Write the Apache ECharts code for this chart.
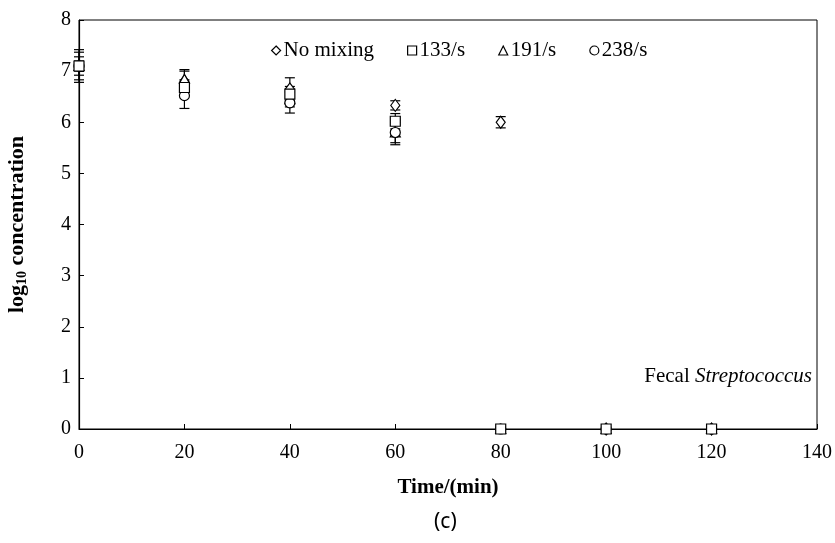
<!DOCTYPE html>
<html><head><meta charset="utf-8">
<script src="https://cdn.jsdelivr.net/npm/echarts@6/dist/echarts.min.js"></script>
<style>html,body{margin:0;padding:0;background:#fff}#c{width:835px;height:543px}</style>
</head><body><div id="c"></div>
<script>
const times = [0, 20, 40, 60, 80, 100, 120];
const seriesNames = ['No mixing', '133/s', '191/s', '238/s'];
const noMixing = [7.1, 6.8, 6.65, 6.33, 6.0, 0, 0];
const s133 = [7.1, 6.68, 6.55, 6.02, 0, 0, 0];
const s191 = [7.1, 6.85, 6.45, 5.8, 0, 0, 0];
const s238 = [7.1, 6.52, 6.38, 5.8, 0, 0, 0];
const noMixingErr = [0.1, 0.2, 0.22, 0.09, 0.11, 0, 0];
const s133Err = [0.32, 0.15, 0.15, 0.15, 0, 0, 0];
const s191Err = [0.18, 0.18, 0.15, 0.2, 0, 0, 0];
const s238Err = [0.27, 0.25, 0.2, 0.24, 0, 0, 0];
const xTicks = [0, 20, 40, 60, 80, 100, 120, 140];
const yTicks = [0, 1, 2, 3, 4, 5, 6, 7, 8];

const values = [noMixing, s133, s191, s238];
const errs = [noMixingErr, s133Err, s191Err, s238Err];
const symbols = ['diamond', 'rect', 'triangle', 'circle'];
const sizes = [[9, 12], [10, 10], [10, 9], [10, 10]];
const zs = [3, 6, 4, 5];
const FONT = '"Liberation Serif", "Times New Roman", serif';

const chart = echarts.init(document.getElementById('c'));
const series = [];
values.forEach((vals, i) => {
  series.push({
    type: 'custom',
    name: seriesNames[i] + ' err',
    silent: true,
    z: 2,
    data: times.map((t, k) => [t, vals[k] - errs[i][k], vals[k] + errs[i][k]]),
    renderItem: function (params, api) {
      const lo = api.coord([api.value(0), api.value(1)]);
      const hi = api.coord([api.value(0), api.value(2)]);
      if (api.value(2) - api.value(1) <= 0) return null;
      const w = 5;
      const st = { stroke: '#000', lineWidth: 1.2 };
      return {
        type: 'group',
        children: [
          { type: 'line', shape: { x1: lo[0], y1: lo[1], x2: hi[0], y2: hi[1] }, style: st },
          { type: 'line', shape: { x1: lo[0] - w, y1: lo[1], x2: lo[0] + w, y2: lo[1] }, style: st },
          { type: 'line', shape: { x1: hi[0] - w, y1: hi[1], x2: hi[0] + w, y2: hi[1] }, style: st }
        ]
      };
    }
  });
  series.push({
    type: 'scatter',
    name: seriesNames[i],
    symbol: symbols[i],
    symbolSize: sizes[i],
    z: zs[i],
    itemStyle: { color: '#fff', borderColor: '#000', borderWidth: 1.2, opacity: 1 },
    data: times.map((t, k) => [t, vals[k]])
  });
});

chart.setOption({
  animation: false,
  grid: { left: 79, right: 18, top: 20, bottom: 114, show: true, borderColor: '#000', borderWidth: 1, containLabel: false, outerBoundsMode: 'none' },
  legend: {
    data: seriesNames.map((n, i) => ({ name: n, icon: symbols[i] })),
    top: 35, left: 266,
    itemWidth: 9, itemHeight: 9, itemGap: 33,
    textStyle: { fontFamily: FONT, fontSize: 21, color: '#000', padding: [0, 0, 0, -2] },
    itemStyle: { color: '#fff', borderColor: '#000', borderWidth: 1.2 }
  },
  xAxis: {
    type: 'value', min: xTicks[0], max: xTicks[xTicks.length - 1], interval: 20,
    axisLine: { lineStyle: { color: '#000', width: 1.2 } },
    axisTick: { show: true, inside: true, length: 5, lineStyle: { color: '#000' } },
    splitLine: { show: false },
    axisLabel: { fontFamily: FONT, fontSize: 20, color: '#000', margin: 14 },
    name: 'Time/(min)', nameLocation: 'middle', nameGap: 48,
    nameTextStyle: { fontFamily: FONT, fontSize: 21, fontWeight: 'bold', color: '#000' }
  },
  yAxis: {
    type: 'value', min: yTicks[0], max: yTicks[yTicks.length - 1], interval: 1,
    axisLine: { show: true, lineStyle: { color: '#000', width: 1.2 } },
    axisTick: { show: true, inside: true, length: 5, lineStyle: { color: '#000' } },
    splitLine: { show: false },
    axisLabel: { fontFamily: FONT, fontSize: 20, color: '#000', margin: 8 },
    name: '{b|log}{s|10}{b| concentration}', nameLocation: 'middle', nameGap: 50,
    nameTextStyle: {
      color: '#000',
      rich: {
        b: { fontFamily: FONT, fontSize: 22, fontWeight: 'bold', color: '#000' },
        s: { fontFamily: FONT, fontSize: 14, fontWeight: 'bold', color: '#000', verticalAlign: 'bottom', padding: [9, 0, 0, 0] }
      }
    }
  },
  graphic: [
    {
      type: 'text', right: 23, top: 366,
      style: {
        text: '{n|Fecal }{i|Streptococcus}',
        rich: {
          n: { fontFamily: FONT, fontSize: 21, fill: '#000' },
          i: { fontFamily: FONT, fontSize: 21, fontStyle: 'italic', fill: '#000' }
        }
      }
    },
    {
      type: 'text', left: 434, top: 512,
      style: { text: '(c)', fontFamily: '"Noto Sans", sans-serif', fontSize: 21, fill: '#000' }
    }
  ],
  series: series
});
</script></body></html>
